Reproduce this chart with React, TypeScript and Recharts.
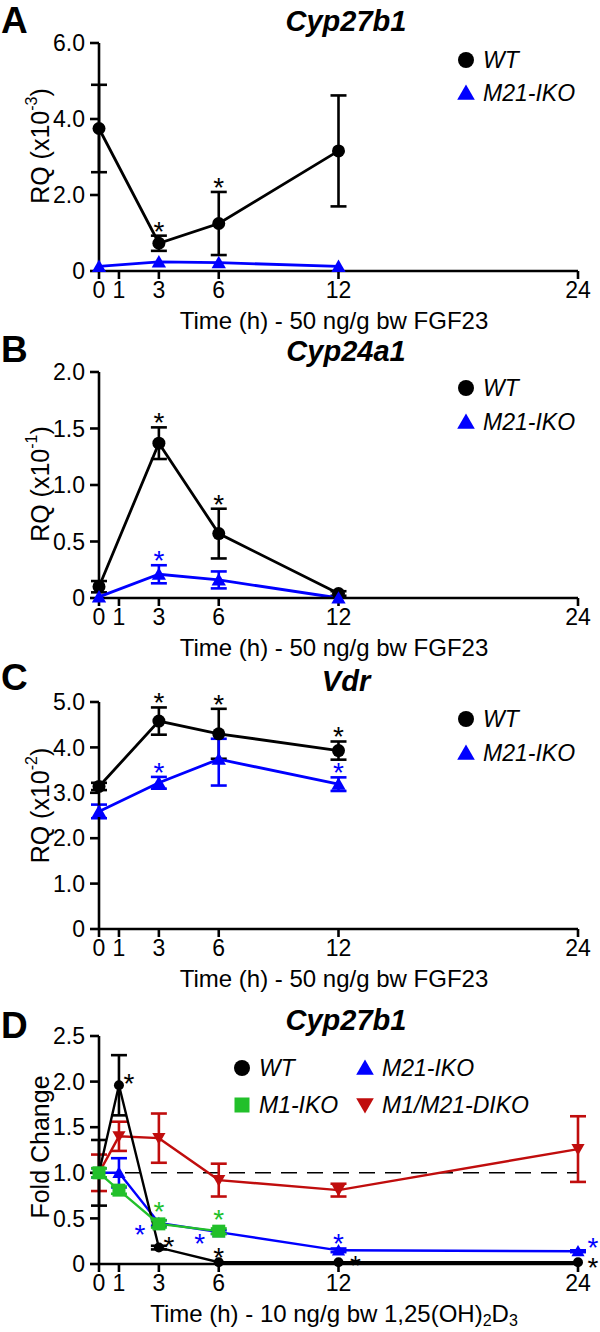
import React from "react";
import { ComposedChart, Line, Scatter, XAxis, YAxis, ErrorBar, ReferenceLine, Legend } from "recharts";

const FONT = '"Liberation Sans", Arial, Helvetica, sans-serif';
const BLACK = "#000000";
const BLUE = "#0000ff";
const GREEN = "#22c02a";
const RED = "#c00d0d";

// time points (h)
const xTicks = [0, 1, 3, 6, 12, 24];
const hoursFGF = [0, 3, 6, 12];
const hoursD = [0, 1, 3, 6, 12, 24];
const hoursM1 = [0, 1, 3, 6];

// A - Cyp27b1, RQ (x10^-3)
const aWT = [3.75, 0.73, 1.25, 3.16];
const aWTErr = [1.15, 0.2, 0.83, 1.46];
const aWTStar = ["", "t", "t", ""];
const aKO = [0.12, 0.24, 0.22, 0.12];
const aKOErr = [0, 0, 0, 0];
const aKOStar = ["", "", "", ""];
const aTicks = [0, 2, 4, 6];

// B - Cyp24a1, RQ (x10^-1)
const bWT = [0.1, 1.37, 0.57, 0.04];
const bWTErr = [0.05, 0.14, 0.22, 0.02];
const bWTStar = ["", "t", "t", ""];
const bKO = [0.01, 0.21, 0.16, 0.0];
const bKOErr = [0, 0.08, 0.075, 0];
const bKOStar = ["", "t", "", ""];
const bTicks = [0, 0.5, 1, 1.5, 2];

// C - Vdr, RQ (x10^-2)
const cWT = [3.14, 4.58, 4.3, 3.93];
const cWTErr = [0.08, 0.3, 0.55, 0.2];
const cWTStar = ["", "t", "t", "t"];
const cKO = [2.59, 3.22, 3.74, 3.19];
const cKOErr: (number | number[])[] = [0.15, 0.13, [0.58, 0.45], 0.15];
const cKOStar = ["", "t", "", "t"];
const cTicks = [0, 1, 2, 3, 4, 5];

// D - Cyp27b1 fold change after 1,25(OH)2D3
const dWT = [1.0, 1.96, 0.18, 0.02, 0.02, 0.02];
const dWTErr = [0.36, 0.33, 0.02, 0, 0, 0];
const dWTStar = ["", "r", "r", "t", "R", "F"];
const dM21 = [1.0, 1.0, 0.45, 0.35, 0.15, 0.14];
const dM21Err = [0.05, 0.16, 0.03, 0.02, 0.02, 0.01];
const dM21Star = ["", "", "l", "l", "t", "E"];
const dM1 = [1.0, 0.81, 0.44, 0.36];
const dM1Err = [0.05, 0.04, 0.04, 0.03];
const dM1Star = ["", "", "T", "T"];
const dDIKO = [1.0, 1.4, 1.38, 0.92, 0.81, 1.26];
const dDIKOErr = [0.2, 0.16, 0.27, 0.18, 0.07, 0.36];
const dDIKOStar = ["", "", "", "", "", ""];
const dTicks = [0, 0.5, 1, 1.5, 2, 2.5];

type Shape = "circle" | "up" | "down" | "square";
type Series = {
  name: string;
  color: string;
  shape: Shape;
  size: number;
  x: number[];
  y: number[];
  err: (number | number[])[];
  star: string[];
};

// star placement relative to the point (or error-bar top for t/T), px
const STAR_OFF: Record<string, [number, number]> = {
  t: [0, -11],
  T: [0, -15],
  r: [10, -8],
  R: [17, -3],
  E: [15, -10],
  F: [15, -1],
  l: [-19, 5],
};

function Marker({ shape, cx, cy, size, color }: { shape: Shape; cx: number; cy: number; size: number; color: string }) {
  const h = size / 2;
  if (shape === "circle") return <circle cx={cx} cy={cy} r={h} fill={color} />;
  if (shape === "square") return <rect x={cx - h} y={cy - h} width={size} height={size} fill={color} />;
  if (shape === "up")
    return <polygon points={`${cx},${cy - h * 1.05} ${cx - h * 1.1},${cy + h * 0.85} ${cx + h * 1.1},${cy + h * 0.85}`} fill={color} />;
  return <polygon points={`${cx},${cy + h * 1.05} ${cx - h * 1.1},${cy - h * 0.85} ${cx + h * 1.1},${cy - h * 0.85}`} fill={color} />;
}

type PanelSpec = {
  letter: string;
  title: string;
  top: number;
  height: number;
  plotTop: number;
  plotBottom: number;
  letterBase: number;
  titleBase: number;
  yDomain: [number, number];
  yTicks: number[];
  fmt: (v: number) => string;
  yLabel: React.ReactNode;
  yLabelDy: number;
  xLabel: React.ReactNode;
  lineWidth: number;
  series: Series[];
  legend: { name: string; color: string; shape: Shape; x: number; y: number }[];
  refY?: number;
};

function Panel({ spec }: { spec: PanelSpec }) {
  const mt = spec.plotTop - spec.top;
  const plotH = spec.plotBottom - spec.plotTop;
  const xh = spec.top + spec.height - spec.plotBottom;
  const axisStyle = { stroke: BLACK, strokeWidth: 2.6 };
  const tickStyle = { fill: BLACK, fontSize: 23, fontFamily: FONT };
  return (
    <div style={{ position: "absolute", left: 0, top: spec.top, width: 600, height: spec.height }}>
      <ComposedChart width={600} height={spec.height} margin={{ top: mt, right: 22, bottom: 0, left: 0 }}>
        <XAxis
          type="number"
          dataKey="h"
          domain={[0, 24]}
          ticks={xTicks}
          interval={0}
          axisLine={axisStyle}
          tickLine={axisStyle}
          tickSize={8}
          tickMargin={3}
          tick={tickStyle}
          height={xh}
          label={{
            content: () => (
              <text x={334} y={plotH + mt + 58} textAnchor="middle" fontSize={24} fontFamily={FONT} fill={BLACK}>
                {spec.xLabel}
              </text>
            ),
          }}
        />
        <YAxis
          type="number"
          dataKey="v"
          domain={spec.yDomain}
          ticks={spec.yTicks}
          interval={0}
          tickFormatter={spec.fmt}
          width={99}
          axisLine={axisStyle}
          tickLine={axisStyle}
          tickSize={9}
          tickMargin={5}
          tick={tickStyle}
          label={{
            content: () => {
              const cy = mt + plotH / 2 + spec.yLabelDy;
              return (
                <text
                  x={40}
                  y={cy}
                  transform={`rotate(-90, 40, ${cy})`}
                  textAnchor="middle"
                  dominantBaseline="central"
                  fontSize={25}
                  fontFamily={FONT}
                  fill={BLACK}
                >
                  {spec.yLabel}
                </text>
              );
            },
          }}
        />
        {spec.refY !== undefined && (
          <ReferenceLine y={spec.refY} stroke={BLACK} strokeWidth={1.5} strokeDasharray="16 10" />
        )}
        {spec.series.map((s) => (
          <Line
            key={s.name}
            data={s.x.map((h, i) => ({ h, v: s.y[i], e: s.err[i] }))}
            dataKey="v"
            name={s.name}
            stroke={s.color}
            strokeWidth={spec.lineWidth}
            legendType="none"
            isAnimationActive={false}
            dot={(p: any) => (
              <Marker key={`${s.name}-${p.index}`} shape={s.shape} cx={p.cx} cy={p.cy} size={s.size} color={s.color} />
            )}
            activeDot={false}
          >
            <ErrorBar dataKey="e" width={8} stroke={s.color} strokeWidth={2.6} direction="y" isAnimationActive={false} />
          </Line>
        ))}
        {spec.series.map((s) => {
          const rows = s.x
            .map((h, i) => {
              const code = s.star[i];
              if (!code) return null;
              const e = s.err[i];
              const up = Array.isArray(e) ? e[1] : e;
              return { h, v: code === "t" || code === "T" ? s.y[i] + up : s.y[i], code };
            })
            .filter(Boolean) as { h: number; v: number; code: string }[];
          if (!rows.length) return null;
          return (
            <Scatter
              key={`star-${s.name}`}
              data={rows}
              dataKey="v"
              legendType="none"
              isAnimationActive={false}
              shape={(p: any) => {
                const [dx, dy] = STAR_OFF[p.payload.code];
                return (
                  <text
                    x={p.cx + dx}
                    y={p.cy + dy + 16}
                    textAnchor="middle"
                    fontSize={28}
                    fontFamily={FONT}
                    fill={s.color}
                  >
                    *
                  </text>
                );
              }}
            />
          );
        })}
        <Legend
          layout="horizontal"
          verticalAlign="middle"
          align="center"
          wrapperStyle={{ top: 0, left: 0, width: 600, height: 1 }}
          content={() => (
            <svg width={600} height={spec.height} style={{ position: "absolute", left: 0, top: 0, overflow: "visible" }}>
              {spec.legend.map((l) => (
                <g key={l.name}>
                  <Marker shape={l.shape} cx={l.x} cy={l.y} size={l.shape === "square" ? 15 : 16} color={l.color} />
                  <text x={l.x + 17} y={l.y + 8} fontSize={23} fontStyle="italic" fontFamily={FONT} fill={BLACK}>
                    {l.name}
                  </text>
                </g>
              ))}
            </svg>
          )}
        />
      </ComposedChart>
      <svg
        width={600}
        height={spec.height}
        style={{ position: "absolute", left: 0, top: 0, pointerEvents: "none", overflow: "visible" }}
      >
        <text x={1} y={spec.letterBase - spec.top} fontSize={37} fontWeight="bold" fontFamily={FONT} fill={BLACK}>
          {spec.letter}
        </text>
        <text
          x={346}
          y={spec.titleBase - spec.top}
          textAnchor="middle"
          fontSize={29}
          fontWeight="bold"
          fontStyle="italic"
          fontFamily={FONT}
          fill={BLACK}
        >
          {spec.title}
        </text>
      </svg>
    </div>
  );
}

const oneDec = (v: number) => (v === 0 ? "0" : v.toFixed(1));

const rqLabel = (exp: string) => (
  <>
    <tspan>RQ (x10</tspan>
    <tspan fontSize={16} dy={-9}>
      {exp}
    </tspan>
    <tspan dy={9}>)</tspan>
  </>
);

const fgfLabel = "Time (h) - 50 ng/g bw FGF23";
const d3Label = (
  <>
    <tspan>Time (h) - 10 ng/g bw 1,25(OH)</tspan>
    <tspan fontSize={16} dy={4}>
      2
    </tspan>
    <tspan dy={-4}>D</tspan>
    <tspan fontSize={16} dy={4}>
      3
    </tspan>
  </>
);

const wtKoLegend = (y1: number, y2: number) => [
  { name: "WT", color: BLACK, shape: "circle" as Shape, x: 466, y: y1 },
  { name: "M21-IKO", color: BLUE, shape: "up" as Shape, x: 466, y: y2 },
];

const panels: PanelSpec[] = [
  {
    letter: "A",
    title: "Cyp27b1",
    top: 0,
    height: 345,
    plotTop: 43,
    plotBottom: 271,
    letterBase: 33,
    titleBase: 31,
    yDomain: [0, 6],
    yTicks: aTicks,
    fmt: oneDec,
    yLabel: rqLabel("-3"),
    yLabelDy: -11,
    xLabel: fgfLabel,
    lineWidth: 2.8,
    series: [
      { name: "WT", color: BLACK, shape: "circle", size: 13, x: hoursFGF, y: aWT, err: aWTErr, star: aWTStar },
      { name: "M21-IKO", color: BLUE, shape: "up", size: 13, x: hoursFGF, y: aKO, err: aKOErr, star: aKOStar },
    ],
    legend: wtKoLegend(60, 93),
  },
  {
    letter: "B",
    title: "Cyp24a1",
    top: 335,
    height: 337,
    plotTop: 372,
    plotBottom: 598,
    letterBase: 362,
    titleBase: 361,
    yDomain: [0, 2],
    yTicks: bTicks,
    fmt: oneDec,
    yLabel: rqLabel("-1"),
    yLabelDy: -1,
    xLabel: fgfLabel,
    lineWidth: 2.8,
    series: [
      { name: "WT", color: BLACK, shape: "circle", size: 13, x: hoursFGF, y: bWT, err: bWTErr, star: bWTStar },
      { name: "M21-IKO", color: BLUE, shape: "up", size: 13, x: hoursFGF, y: bKO, err: bKOErr, star: bKOStar },
    ],
    legend: wtKoLegend(388 - 335, 422 - 335),
  },
  {
    letter: "C",
    title: "Vdr",
    top: 662,
    height: 338,
    plotTop: 702,
    plotBottom: 929,
    letterBase: 690,
    titleBase: 691,
    yDomain: [0, 5],
    yTicks: cTicks,
    fmt: oneDec,
    yLabel: rqLabel("-2"),
    yLabelDy: -10,
    xLabel: fgfLabel,
    lineWidth: 2.8,
    series: [
      { name: "WT", color: BLACK, shape: "circle", size: 13, x: hoursFGF, y: cWT, err: cWTErr, star: cWTStar },
      { name: "M21-IKO", color: BLUE, shape: "up", size: 13, x: hoursFGF, y: cKO, err: cKOErr, star: cKOStar },
    ],
    legend: wtKoLegend(719 - 662, 753 - 662),
  },
  {
    letter: "D",
    title: "Cyp27b1",
    top: 990,
    height: 342,
    plotTop: 1036,
    plotBottom: 1264,
    letterBase: 1038,
    titleBase: 1030,
    yDomain: [0, 2.5],
    yTicks: dTicks,
    fmt: oneDec,
    yLabel: "Fold Change",
    yLabelDy: -3,
    xLabel: d3Label,
    lineWidth: 2.4,
    refY: 1,
    series: [
      { name: "M1/M21-DIKO", color: RED, shape: "down", size: 12, x: hoursD, y: dDIKO, err: dDIKOErr, star: dDIKOStar },
      { name: "M21-IKO", color: BLUE, shape: "up", size: 12, x: hoursD, y: dM21, err: dM21Err, star: dM21Star },
      { name: "WT", color: BLACK, shape: "circle", size: 10, x: hoursD, y: dWT, err: dWTErr, star: dWTStar },
      { name: "M1-IKO", color: GREEN, shape: "square", size: 13, x: hoursM1, y: dM1, err: dM1Err, star: dM1Star },
    ],
    legend: [
      { name: "WT", color: BLACK, shape: "circle", x: 242, y: 1068 - 990 },
      { name: "M21-IKO", color: BLUE, shape: "up", x: 365, y: 1068 - 990 },
      { name: "M1-IKO", color: GREEN, shape: "square", x: 242, y: 1105 - 990 },
      { name: "M1/M21-DIKO", color: RED, shape: "down", x: 365, y: 1105 - 990 },
    ],
  },
];

export default function App() {
  return (
    <div style={{ position: "absolute", left: 0, top: 0, width: 600, height: 1332, background: "#fff", fontFamily: FONT }}>
      {panels.map((p) => (
        <Panel key={p.letter} spec={p} />
      ))}
    </div>
  );
}
